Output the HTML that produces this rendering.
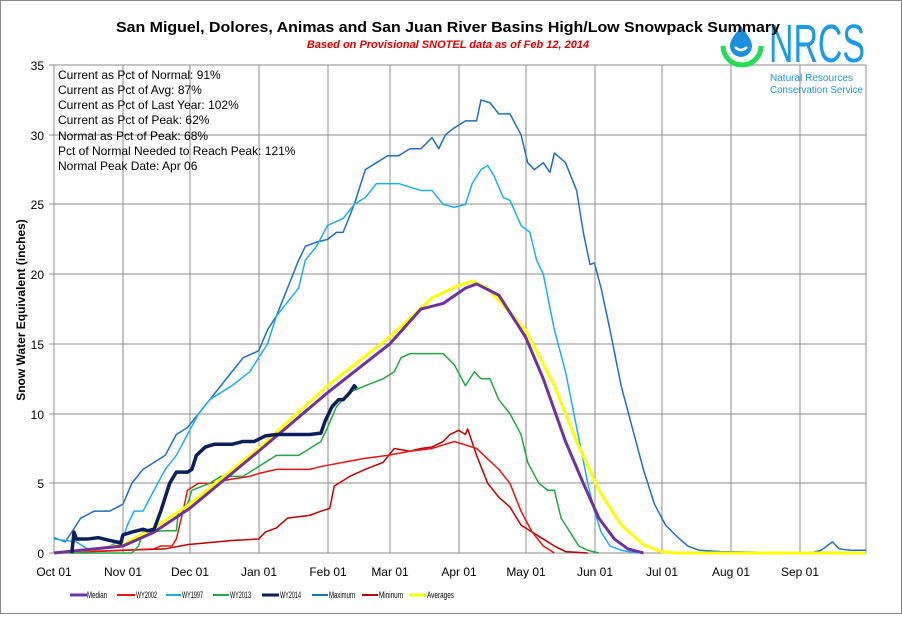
<!DOCTYPE html>
<html><head><meta charset="utf-8"><style>
body{margin:0;background:#fff;}
svg text{font-family:"Liberation Sans",Arial,sans-serif;}
</style></head><body>
<svg width="902" height="614" viewBox="0 0 902 614" xmlns="http://www.w3.org/2000/svg">
<rect x="0.5" y="0.5" width="901" height="613" fill="#fff" stroke="#888"/>
<!-- grid -->
<g stroke="#8c8c8c" stroke-width="1">
<line x1="54" y1="65" x2="866" y2="65"/><line x1="54" y1="135" x2="866" y2="135"/><line x1="54" y1="204" x2="866" y2="204"/><line x1="54" y1="274" x2="866" y2="274"/><line x1="54" y1="344" x2="866" y2="344"/><line x1="54" y1="414" x2="866" y2="414"/><line x1="54" y1="483" x2="866" y2="483"/>
<line x1="123" y1="65" x2="123" y2="553"/><line x1="190" y1="65" x2="190" y2="553"/><line x1="259" y1="65" x2="259" y2="553"/><line x1="328" y1="65" x2="328" y2="553"/><line x1="390" y1="65" x2="390" y2="553"/><line x1="459" y1="65" x2="459" y2="553"/><line x1="526" y1="65" x2="526" y2="553"/><line x1="595" y1="65" x2="595" y2="553"/><line x1="662" y1="65" x2="662" y2="553"/><line x1="731" y1="65" x2="731" y2="553"/><line x1="800" y1="65" x2="800" y2="553"/><line x1="866" y1="65" x2="866" y2="553"/>
<line x1="54" y1="65" x2="54" y2="553"/><line x1="54" y1="553" x2="866" y2="553"/>
<line x1="49" y1="65" x2="54" y2="65"/><line x1="49" y1="135" x2="54" y2="135"/><line x1="49" y1="204" x2="54" y2="204"/><line x1="49" y1="274" x2="54" y2="274"/><line x1="49" y1="344" x2="54" y2="344"/><line x1="49" y1="414" x2="54" y2="414"/><line x1="49" y1="483" x2="54" y2="483"/><line x1="49" y1="553" x2="54" y2="553"/>
</g>
<g font-size="12" text-anchor="end" fill="#000">
<text x="44" y="70">35</text><text x="44" y="140">30</text><text x="44" y="209">25</text><text x="44" y="279">20</text><text x="44" y="349">15</text><text x="44" y="419">10</text><text x="44" y="488">5</text><text x="44" y="558">0</text>
</g>
<g font-size="12" text-anchor="middle" fill="#000">
<text x="54" y="576">Oct 01</text><text x="123" y="576">Nov 01</text><text x="190" y="576">Dec 01</text><text x="259" y="576">Jan 01</text><text x="328" y="576">Feb 01</text><text x="390" y="576">Mar 01</text><text x="459" y="576">Apr 01</text><text x="526" y="576">May 01</text><text x="595" y="576">Jun 01</text><text x="662" y="576">Jul 01</text><text x="731" y="576">Aug 01</text><text x="800" y="576">Sep 01</text>
</g>
<text x="25" y="310" font-size="12" font-weight="bold" text-anchor="middle" transform="rotate(-90 25 310)">Snow Water Equivalent (inches)</text>
<!-- logo -->
<g>
<path d="M723 46 A18 18 0 0 0 761 46" stroke="#22dd55" stroke-width="5" fill="none"/>
<path d="M741 26 C736 34 730 39 730 46 A11 11 0 0 0 752 46 C752 39 746 34 741 26Z" fill="#1a8fe0"/>
<path d="M735 47 Q741 53 747 47" stroke="#fff" stroke-width="2.5" fill="none"/>
<text x="769" y="62" font-size="54" fill="#1a9ae8" textLength="96" lengthAdjust="spacingAndGlyphs">NRCS</text>
<text x="770" y="81" font-size="10" fill="#1a9ae8" textLength="83" lengthAdjust="spacingAndGlyphs">Natural Resources</text>
<text x="770" y="93" font-size="10" fill="#1a9ae8" textLength="93" lengthAdjust="spacingAndGlyphs">Conservation Service</text>
</g>
<text x="116" y="32" font-size="15" font-weight="bold" textLength="664" lengthAdjust="spacingAndGlyphs">San Miguel, Dolores, Animas and San Juan River Basins High/Low Snowpack Summary</text>
<text x="448" y="48" font-size="11" font-weight="bold" font-style="italic" fill="#e00000" text-anchor="middle">Based on Provisional SNOTEL data as of Feb 12, 2014</text>
<g font-size="12" fill="#000">
<text x="58" y="79">Current  as Pct of Normal: 91%</text>
<text x="58" y="94">Current  as Pct of Avg: 87%</text>
<text x="58" y="109">Current  as Pct of Last Year: 102%</text>
<text x="58" y="124">Current  as Pct of Peak: 62%</text>
<text x="58" y="140">Normal  as Pct of Peak: 68%</text>
<text x="58" y="155">Pct of Normal Needed  to Reach Peak: 121%</text>
<text x="58" y="170">Normal  Peak Date: Apr 06</text>
</g>
<g transform="translate(54,553) scale(2.224,-13.94)" fill="none" stroke-linejoin="round">
<polyline vector-effect="non-scaling-stroke" stroke="#1f6fbf" stroke-width="1.5" points="0,1.1 5,0.8 8,1.5 12,2.5 18,3 25,3 31,3.5 35,5 40,6 45,6.5 50,7 55,8.5 60,9 65,10 70,11 75,12 80,13 85,14 92,14.5 96,16 100,17 105,19 110,21 113,22 118,22.3 123,22.5 127,23 130,23 135,25 140,27.5 145,28 150,28.5 155,28.5 160,29 165,29 170,29.8 173,29 176,30 180,30.5 185,31 190,31 192,32.5 196,32.3 200,31.5 205,31.5 210,30 213,28 216,27.5 220,28 223,27.3 225,28.7 230,28 235,26 238,23 241,20.7 243,20.8 246,19 250,16 255,12 260,9 265,6 270,3.5 275,2 280,1.2 285,0.5 290,0.2 300,0.1 340,0 345,0.2 350,0.8 353,0.3 358,0.2 365,0.2"/>
<polyline vector-effect="non-scaling-stroke" stroke="#1ab0f0" stroke-width="1.5" points="0,1 10,0.8 15,0.3 20,0.2 25,0.5 31,1 33,2 36,3 40,3 45,4.5 50,6 55,7 60,8.5 65,10 70,11 75,11.5 80,12 88,13 92,14 96,15 100,17 105,18 110,19 113,21 118,22 123,23.5 130,24 135,25 140,25.5 145,26.5 155,26.5 165,26 170,26 175,25 180,24.8 185,25 188,26.5 192,27.5 195,27.8 198,27 202,25.5 205,25.3 210,23.5 214,23 217,21 220,20 225,16 230,13 235,9 240,5 243,3 246,1.5 250,0.5 255,0.2 262,0"/>
<polyline vector-effect="non-scaling-stroke" stroke="#c00000" stroke-width="1.5" points="0,0 50,0.3 60,0.6 80,0.9 92,1 95,1.5 100,1.8 105,2.5 115,2.7 120,3 124,3.2 126,4.8 133,5.5 140,6 148,6.5 153,7.5 160,7.3 165,7.5 170,7.6 175,8 178,8.5 182,8.8 185,8.5 186,8.9 190,7 195,5 200,4 205,3.3 210,2 215,1.5 220,1 225,0.5 230,0.1 240,0"/>
<polyline vector-effect="non-scaling-stroke" stroke="#ee1111" stroke-width="1.5" points="0,0 30,0.2 45,0.3 48,0.5 53,0.5 55,1 58,3 60,4.5 65,5 70,5 80,5.3 88,5.5 92,5.7 100,6 110,6 115,6 120,6.2 130,6.5 140,6.8 150,7 160,7.3 170,7.5 180,8 190,7.5 200,6 205,5 210,3 215,1.5 220,0.5 225,0"/>
<polyline vector-effect="non-scaling-stroke" stroke="#1daa40" stroke-width="1.5" points="0,0 35,0 38,0.5 40,1.5 50,1.6 55,1.6 56,3 60,3.5 62,4.5 70,5 75,5.5 85,5.5 90,6 95,6.5 100,7 110,7 115,7.5 120,8 123,9 127,10.5 130,11 134,11.6 140,12 148,12.5 153,13 156,14 160,14.3 170,14.3 175,14.3 180,13.5 185,12 189,13 192,12.5 196,12.5 200,11 205,10 210,8.5 213,6.5 218,5 222,4.5 225,4.5 228,2.5 232,1.5 236,0.5 240,0.2 245,0"/>
<polyline vector-effect="non-scaling-stroke" stroke="#ffff00" stroke-width="3" points="0,0 20,0.3 31,0.6 45,1.8 61,3.5 92,7.5 123,12 151,15.5 170,18.3 182,19.2 188,19.5 195,19 212,16 225,12 235,8 245,4.5 255,2 265,0.6 273,0.1 280,0 365,0"/>
<polyline vector-effect="non-scaling-stroke" stroke="#7030a0" stroke-width="3" points="0,0 31,0.5 45,1.5 61,3.2 92,7.3 123,11.5 151,15 165,17.5 175,17.9 185,19 190,19.3 200,18.5 212,15.5 220,12.5 230,8 238,5 245,2.5 252,1 258,0.3 265,0"/>
<polyline vector-effect="non-scaling-stroke" stroke="#0a1f5c" stroke-width="3.5" points="8,0 9,1.5 10,1 15,1 20,1.1 25,0.9 28,0.8 30,0.7 31,1.3 35,1.5 40,1.7 42,1.6 45,1.7 48,3 52,5 55,5.8 60,5.8 62,6 64,7 68,7.6 72,7.8 80,7.8 85,8 90,8 95,8.4 100,8.5 110,8.5 115,8.5 120,8.6 122,9.5 125,10.5 128,11 130,11 133,11.5 135,12 136,11.8"/>
</g>
<!-- legend -->
<g stroke-width="3">
<line x1="70" y1="595" x2="87" y2="595" stroke="#7030a0"/>
<line x1="117" y1="595" x2="135" y2="595" stroke="#ee1111" stroke-width="2"/>
<line x1="166" y1="595" x2="181" y2="595" stroke="#1ab0f0" stroke-width="2"/>
<line x1="213" y1="595" x2="229" y2="595" stroke="#1daa40" stroke-width="2"/>
<line x1="262" y1="595" x2="279" y2="595" stroke="#0a1f5c"/>
<line x1="312" y1="595" x2="328" y2="595" stroke="#1f6fbf" stroke-width="2"/>
<line x1="362" y1="595" x2="378" y2="595" stroke="#c00000" stroke-width="2"/>
<line x1="409" y1="595" x2="426" y2="595" stroke="#ffff00"/>
</g>
<g font-size="9" fill="#000">
<text x="87" y="598" textLength="20" lengthAdjust="spacingAndGlyphs">Median</text>
<text x="136" y="598" textLength="21" lengthAdjust="spacingAndGlyphs">WY2002</text>
<text x="182" y="598" textLength="21" lengthAdjust="spacingAndGlyphs">WY1997</text>
<text x="230" y="598" textLength="21" lengthAdjust="spacingAndGlyphs">WY2013</text>
<text x="280" y="598" textLength="21" lengthAdjust="spacingAndGlyphs">WY2014</text>
<text x="329" y="598" textLength="26" lengthAdjust="spacingAndGlyphs">Maximum</text>
<text x="379" y="598" textLength="24" lengthAdjust="spacingAndGlyphs">Mininum</text>
<text x="427" y="598" textLength="27" lengthAdjust="spacingAndGlyphs">Averages</text>
</g>
</svg>
</body></html>
